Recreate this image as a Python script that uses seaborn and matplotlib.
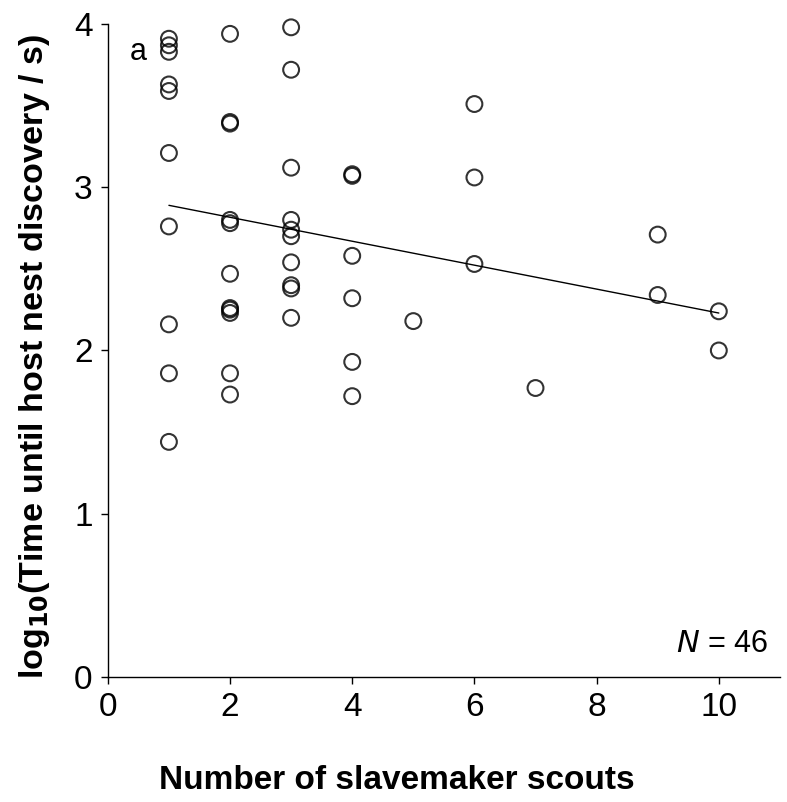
import matplotlib
matplotlib.use("Agg")
import matplotlib.pyplot as plt
import seaborn as sns
import pandas as pd

# number of scouts and log10 discovery time
scouts = [1] * 10 + [2] * 11 + [3] * 10 + [4] * 6 + [5] + [6] * 3 + [7] + [9] * 2 + [10] * 2
log_time = [
    3.91, 3.87, 3.83, 3.63, 3.59, 3.21, 2.76, 2.16, 1.86, 1.44,
    3.94, 3.40, 3.39, 2.80, 2.78, 2.47, 2.26, 2.25, 2.23, 1.86, 1.73,
    3.98, 3.72, 3.12, 2.80, 2.74, 2.70, 2.54, 2.40, 2.38, 2.20,
    3.08, 3.07, 2.58, 2.32, 1.93, 1.72,
    2.18,
    3.51, 3.06, 2.53,
    1.77,
    2.71, 2.34,
    2.24, 2.00,
]
x_ticks = [0, 2, 4, 6, 8, 10]
y_ticks = [0, 1, 2, 3, 4]

df = pd.DataFrame({"scouts": scouts, "log_time": log_time})

sns.set_style("white")
plt.rcParams["font.family"] = ["Liberation Sans", "DejaVu Sans"]
plt.rcParams["text.color"] = "black"
plt.rcParams["axes.labelcolor"] = "black"

fig = plt.figure(figsize=(7.87, 8.02), dpi=100)
ax = fig.add_axes([0.137, 0.156, 0.854, 0.814])

sns.regplot(data=df, x="scouts", y="log_time", ax=ax, ci=None, truncate=True,
            scatter_kws={"s": 130, "facecolors": "none", "edgecolors": "black",
                         "linewidths": 1.5, "clip_on": False},
            line_kws={"color": "black", "lw": 1.0})

ax.set_xlim(0, 11)
ax.set_ylim(0, 4)
ax.set_xticks(x_ticks)
ax.set_yticks(y_ticks)
ax.tick_params(axis="both", labelsize=24, direction="out", length=5, width=1,
               color="black", labelcolor="black", pad=6, bottom=True, left=True)
for s in ["top", "right"]:
    ax.spines[s].set_visible(False)
for s in ["left", "bottom"]:
    ax.spines[s].set_color("black")
    ax.spines[s].set_linewidth(1.0)

ax.set_xlabel("Number of slavemaker scouts", fontsize=24, fontweight="bold")
ax.xaxis.set_label_coords(0.43, -0.135)
ax.set_ylabel("log$_{\\mathbf{10}}$(Time until host nest discovery / s)", fontsize=24.5,
              fontweight="bold")
ax.yaxis.set_label_coords(-0.083, 0.49)

ax.text(0.5, 3.83, "a", fontsize=22, ha="center", va="center")
ax.text(10.8, 0.2, "$\\it{N}$ = 46", fontsize=22, ha="right", va="center")

fig.savefig("out.png", dpi=100)
